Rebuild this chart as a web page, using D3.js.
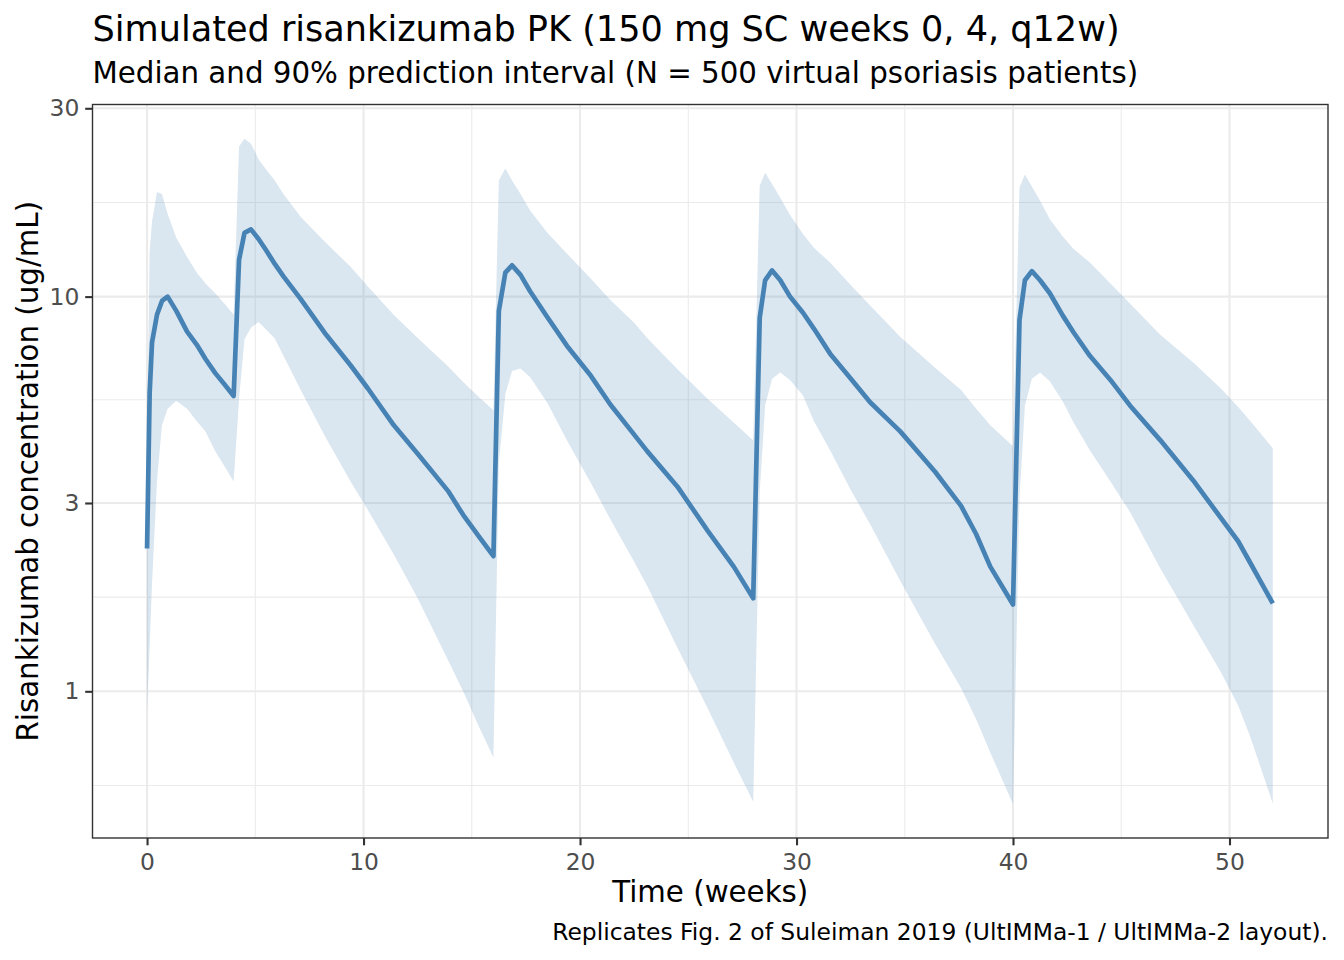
<!DOCTYPE html>
<html>
<head>
<meta charset="utf-8">
<script src="https://cdn.jsdelivr.net/npm/d3@7"></script>
<style>
  body { margin: 0; background: #fff; }
  svg { display: block; }
</style>
</head>
<body>
<svg id="chart" width="1344" height="960"></svg>
<script>
// time grid (weeks) and simulated quantiles (ug/mL)
var weeks = [0, 0.12, 0.23, 0.46, 0.69, 0.95, 1.35, 1.85, 2.3, 2.7, 3.15, 3.6, 4.0,
  4.25, 4.5, 4.8, 5.15, 5.5, 5.9, 6.3, 7.1, 8.2, 9.4, 10.2, 11.4, 12.5, 13.9, 14.6, 15.3, 16.0,
  16.25, 16.55, 16.86, 17.25, 17.7, 18.5, 19.4, 20.5, 21.4, 22.5, 23.1, 24.5, 25.9, 27.1, 28.0,
  28.3, 28.55, 28.87, 29.25, 29.7, 30.3, 30.8, 31.55, 32.5, 33.4, 34.8, 36.4, 37.6, 38.3, 38.95, 40.0,
  40.3, 40.55, 40.87, 41.25, 41.7, 42.3, 42.8, 43.55, 44.5, 45.4, 46.8, 48.4, 49.6, 50.4, 50.95, 52.0];

var p50 = [2.3, 5.7, 7.66, 9.0, 9.75, 10.0, 9.2, 8.15, 7.55, 6.95, 6.4, 5.97, 5.6,
  12.4, 14.5, 14.8, 14.0, 13.1, 12.1, 11.25, 9.85, 8.1, 6.7, 5.85, 4.72, 4.0, 3.22, 2.8, 2.48, 2.2,
  9.2, 11.5, 12.0, 11.35, 10.3, 8.85, 7.5, 6.3, 5.33, 4.47, 4.06, 3.3, 2.55, 2.07, 1.72,
  8.84, 11.0, 11.65, 11.0, 10.0, 9.1, 8.3, 7.17, 6.2, 5.4, 4.55, 3.6, 2.95, 2.5, 2.07, 1.66,
  8.73, 11.0, 11.6, 11.0, 10.2, 8.95, 8.11, 7.08, 6.15, 5.3, 4.33, 3.38, 2.75, 2.4, 2.12, 1.67];

var p95 = [4.0, 13.0, 15.5, 18.4, 18.2, 16.2, 14.1, 12.6, 11.5, 10.8, 10.2, 9.56, 9.0,
  24.0, 25.1, 24.4, 22.3, 21.0, 19.7, 18.2, 15.9, 13.8, 11.9, 10.6, 8.98, 7.86, 6.66, 6.08, 5.58, 5.15,
  19.7, 21.1, 19.7, 18.2, 16.5, 14.5, 12.85, 11.1, 9.8, 8.58, 7.85, 6.55, 5.5, 4.8, 4.32,
  19.1, 20.6, 19.3, 17.8, 16.1, 14.4, 13.3, 12.2, 10.7, 9.5, 7.9, 6.6, 5.8, 5.2, 4.72, 4.18,
  18.9, 20.4, 19.0, 17.5, 15.7, 14.2, 13.2, 12.2, 10.8, 9.6, 8.0, 6.75, 5.85, 5.25, 4.85, 4.13];

var p05 = [0.9, 1.3, 1.88, 3.43, 4.73, 5.2, 5.45, 5.2, 4.83, 4.55, 4.06, 3.7, 3.4,
  5.5, 7.8, 8.35, 8.62, 8.25, 7.83, 7.08, 5.8, 4.45, 3.4, 2.88, 2.22, 1.72, 1.2, 1.0, 0.82, 0.68,
  3.8, 5.66, 6.48, 6.57, 6.25, 5.37, 4.32, 3.37, 2.73, 2.13, 1.85, 1.29, 0.905, 0.66, 0.525,
  3.2, 5.3, 6.19, 6.42, 6.15, 5.62, 4.84, 4.08, 3.24, 2.65, 1.9, 1.32, 1.02, 0.85, 0.70, 0.518,
  3.1, 5.3, 6.19, 6.42, 6.1, 5.42, 4.8, 4.08, 3.4, 2.85, 2.05, 1.45, 1.12, 0.92, 0.77, 0.52];

var xBreaks = [0, 10, 20, 30, 40, 50];
var xMinor = [5, 15, 25, 35, 45];
var yBreaks = [1, 3, 10, 30];
var yLabels = ["1", "3", "10", "30"];

var titleText = "Simulated risankizumab PK (150 mg SC weeks 0, 4, q12w)";
var subtitleText = "Median and 90% prediction interval (N = 500 virtual psoriasis patients)";
var captionText = "Replicates Fig. 2 of Suleiman 2019 (UltIMMa-1 / UltIMMa-2 layout).";

var data = weeks.map(function(t, i) {
  return { t: t, lo: p05[i], med: p50[i], hi: p95[i] };
});

var svg = d3.select("#chart"),
    font = "DejaVu Sans",
    pL = 92.5, pR = 1328, pT = 104.5, pB = 838;

var xScale = d3.scaleLinear().domain([-2.52, 54.55]).range([pL, pR]);
var yScale = d3.scaleLog().domain([0.425, 30.67]).range([pB, pT]);

// log-space midpoints for minor grid
var lb = yBreaks.map(function(v) { return Math.log10(v); });
var yMinor = [Math.pow(10, lb[0] - (lb[1] - lb[0]) / 2)];
for (var i = 0; i < lb.length - 1; i++) yMinor.push(Math.pow(10, (lb[i] + lb[i + 1]) / 2));
var yDom = yScale.domain();
yMinor = yMinor.filter(function(v) { return v > yDom[0] && v < yDom[1]; });

var grid = svg.append("g");
function hlines(vals, w) {
  grid.selectAll(null).data(vals).enter().append("line")
    .attr("x1", pL).attr("x2", pR)
    .attr("y1", function(d) { return yScale(d); }).attr("y2", function(d) { return yScale(d); })
    .style("stroke", "#EBEBEB").style("stroke-width", w);
}
function vlines(vals, w) {
  grid.selectAll(null).data(vals).enter().append("line")
    .attr("y1", pT).attr("y2", pB)
    .attr("x1", function(d) { return xScale(d); }).attr("x2", function(d) { return xScale(d); })
    .style("stroke", "#EBEBEB").style("stroke-width", w);
}
hlines(yMinor, 1.1);
vlines(xMinor, 1.1);
hlines(yBreaks, 2.1);
vlines(xBreaks, 2.1);

var area = d3.area()
  .x(function(d) { return xScale(d.t); })
  .y0(function(d) { return yScale(d.lo); })
  .y1(function(d) { return yScale(d.hi); });

svg.append("path")
  .datum(data)
  .attr("d", area)
  .style("fill", "steelblue")
  .style("fill-opacity", 0.2);

var line = d3.line()
  .x(function(d) { return xScale(d.t); })
  .y(function(d) { return yScale(d.med); });

svg.append("path")
  .datum(data)
  .attr("d", line)
  .style("fill", "none")
  .style("stroke", "steelblue")
  .style("stroke-width", 4.7)
  .style("stroke-linejoin", "round");

svg.append("rect")
  .attr("x", pL).attr("y", pT)
  .attr("width", pR - pL).attr("height", pB - pT)
  .style("fill", "none").style("stroke", "#333333").style("stroke-width", 1.4);

// axes
var xAxis = d3.axisBottom(xScale).tickValues(xBreaks).tickSize(7.3).tickPadding(8.5);
var gx = svg.append("g").attr("transform", "translate(0," + pB + ")").call(xAxis);
var yAxis = d3.axisLeft(yScale).tickValues(yBreaks).tickSize(7.3).tickPadding(5.9)
  .tickFormat(function(d, i) { return yLabels[i]; });
var gy = svg.append("g").attr("transform", "translate(" + pL + ",0)").call(yAxis);

[gx, gy].forEach(function(g) {
  g.select(".domain").remove();
  g.selectAll(".tick line").style("stroke", "#333333").style("stroke-width", 2.1);
  g.selectAll(".tick text").style("fill", "#4D4D4D").style("font-family", font).style("font-size", "23.4px");
});

svg.append("text")
  .attr("x", (pL + pR) / 2).attr("y", 902)
  .attr("text-anchor", "middle")
  .style("font-family", font).style("font-size", "29.3px")
  .text("Time (weeks)");

svg.append("text")
  .attr("transform", "translate(38," + (pT + pB) / 2 + ") rotate(-90)")
  .attr("text-anchor", "middle")
  .style("font-family", font).style("font-size", "29.3px")
  .text("Risankizumab concentration (ug/mL)");

svg.append("text")
  .attr("x", pL).attr("y", 41)
  .style("font-family", font).style("font-size", "35.1px")
  .text(titleText);

svg.append("text")
  .attr("x", pL).attr("y", 83)
  .style("font-family", font).style("font-size", "29.3px")
  .text(subtitleText);

svg.append("text")
  .attr("x", pR).attr("y", 940)
  .attr("text-anchor", "end")
  .style("font-family", font).style("font-size", "23.4px")
  .text(captionText);
</script>
</body>
</html>
